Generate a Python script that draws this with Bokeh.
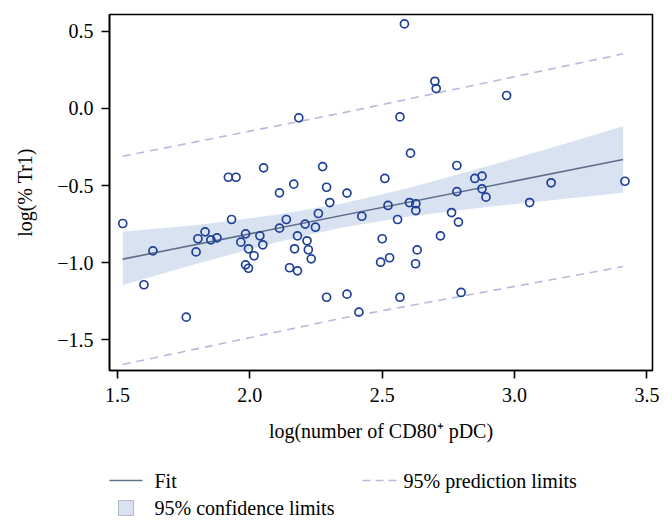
import numpy as np
from bokeh.plotting import figure
from bokeh.layouts import column
from bokeh.models import Range1d, FixedTicker, Label, BoxAnnotation
from bokeh.embed import file_html
from bokeh.resources import INLINE

# scatter data: log(number of CD80+ pDC) vs log(% Tr1)
cd80 = [1.520, 1.600, 1.634, 1.760, 1.797, 1.804, 1.831, 1.853, 1.876, 1.919,
        1.931, 1.948, 1.966, 1.984, 1.984, 1.995, 1.995, 2.016, 2.038, 2.049,
        2.052, 2.112, 2.112, 2.138, 2.150, 2.166, 2.169, 2.180, 2.180, 2.185,
        2.209, 2.216, 2.221, 2.232, 2.248, 2.259, 2.275, 2.290, 2.290, 2.302,
        2.367, 2.367, 2.412, 2.423, 2.494, 2.500, 2.510, 2.522, 2.528, 2.558,
        2.567, 2.567, 2.584, 2.603, 2.607, 2.626, 2.627, 2.627, 2.632, 2.699,
        2.704, 2.720, 2.762, 2.782, 2.782, 2.788, 2.798, 2.850, 2.877, 2.877,
        2.892, 2.970, 3.057, 3.138, 3.417]
tr1 = [-0.746, -1.143, -0.923, -1.353, -0.930, -0.845, -0.800, -0.852, -0.839, -0.446,
       -0.720, -0.446, -0.867, -0.813, -1.014, -0.910, -1.036, -0.955, -0.826, -0.884,
       -0.385, -0.547, -0.776, -0.720, -1.033, -0.491, -0.910, -0.826, -1.053, -0.061,
       -0.750, -0.858, -0.916, -0.975, -0.770, -0.681, -0.377, -0.511, -1.224, -0.610,
       -0.549, -1.204, -1.321, -0.699, -0.997, -0.845, -0.454, -0.629, -0.968, -0.720,
       -0.055, -1.224, 0.548, -0.610, -0.290, -1.007, -0.618, -0.662, -0.917, 0.176,
       0.129, -0.826, -0.675, -0.370, -0.539, -0.737, -1.193, -0.454, -0.439, -0.521,
       -0.575, 0.084, -0.610, -0.482, -0.472]

# fit line
fit_x = [1.52, 3.41]
fit_y = [-0.977, -0.331]

# 95% confidence band
band_x = [1.52, 1.80, 2.10, 2.35, 2.60, 2.90, 3.20, 3.41]
band_upper = [-0.800, -0.755, -0.690, -0.616, -0.516, -0.374, -0.224, -0.115]
band_lower = [-1.145, -1.007, -0.868, -0.772, -0.700, -0.638, -0.584, -0.547]

# 95% prediction limits
pred_x = [1.52, 2.35, 3.41]
pred_upper = [-0.310, -0.029, 0.354]
pred_lower = [-1.660, -1.359, -1.025]

x_ticks = [1.5, 2.0, 2.5, 3.0, 3.5]
x_tick_labels = ["1.5", "2.0", "2.5", "3.0", "3.5"]
y_ticks = [-1.5, -1.0, -0.5, 0.0, 0.5]
y_tick_labels = ["\u22121.5", "\u22121.0", "\u22120.5", "0.0", "0.5"]

legend_labels = ["Fit", "95% confidence limits", "95% prediction limits"]

FONT = "Liberation Serif"
PT_COLOR = "#1d3f98"
BAND_COLOR = "#d8e2f0"
FIT_COLOR = "#60708c"
PRED_COLOR = "#b8b9dc"

p = figure(width=664, height=460, output_backend="svg", toolbar_location=None,
           x_range=Range1d(1.470, 3.521), y_range=Range1d(-1.699, 0.609),
           min_border_left=109, min_border_right=12, min_border_top=14,
           min_border_bottom=90)
p.grid.visible = False
p.outline_line_color = "black"
p.outline_line_width = 1.6
p.background_fill_color = "white"
p.border_fill_color = "white"

p.varea(x=band_x, y1=band_lower, y2=band_upper, fill_color=BAND_COLOR, fill_alpha=1.0)
p.line(fit_x, fit_y, line_color=FIT_COLOR, line_width=1.6)
p.line(pred_x, pred_upper, line_color=PRED_COLOR, line_width=1.6, line_dash="8 6")
p.line(pred_x, pred_lower, line_color=PRED_COLOR, line_width=1.6, line_dash="8 6")
p.scatter(cd80, tr1, marker="circle", size=8, fill_color=None, line_color=PT_COLOR, line_width=1.7)

for ax in (p.xaxis[0], p.yaxis[0]):
    ax.axis_line_color = "black"
    ax.axis_line_width = 1.6
    ax.major_tick_line_color = "black"
    ax.major_tick_line_width = 1.6
    ax.major_tick_out = 8
    ax.major_tick_in = 0
    ax.minor_tick_line_color = None
    ax.major_label_text_font = FONT
    ax.major_label_text_font_size = "20px"
    ax.major_label_text_color = "black"
    ax.axis_label_text_font = FONT
    ax.axis_label_text_font_size = "20px"
    ax.axis_label_text_font_style = "normal"
    ax.axis_label_text_color = "black"

p.xaxis.ticker = FixedTicker(ticks=x_ticks)
p.xaxis.major_label_overrides = dict(zip(x_ticks, x_tick_labels))
p.yaxis.ticker = FixedTicker(ticks=y_ticks)
p.yaxis.major_label_overrides = dict(zip(y_ticks, y_tick_labels))
p.xaxis.axis_label = "log(number of CD80\u207a pDC)"
p.yaxis.axis_label = "log(% Tr1)"
p.xaxis.major_label_standoff = 9
p.xaxis.axis_label_standoff = 15
p.yaxis.major_label_standoff = 8
p.yaxis.axis_label_standoff = 18

# legend panel: frame aligned with the main plot; ranges in page pixels (y downward)
LH = 61
leg = figure(width=664, height=LH, output_backend="svg", toolbar_location=None,
             x_range=Range1d(109, 652), y_range=Range1d(LH, 0),
             x_axis_type=None, y_axis_type=None,
             min_border_left=109, min_border_right=12, min_border_top=0,
             min_border_bottom=0)
leg.grid.visible = False
leg.outline_line_color = None
leg.background_fill_color = "white"
leg.border_fill_color = "white"

# Fit sample
leg.segment(x0=[108], y0=[20], x1=[142], y1=[20], line_color=FIT_COLOR, line_width=1.6)
# confidence square sample
leg.add_layout(BoxAnnotation(left=118, right=133, top=40, bottom=55,
                             fill_color=BAND_COLOR, fill_alpha=1,
                             line_color="#444444", line_width=1))
# prediction dashed sample
leg.segment(x0=[362], y0=[20], x1=[396], y1=[20], line_color=PRED_COLOR,
            line_width=1.6, line_dash="8 5")

for (lx, ly), txt in zip([(154, 20), (154, 47), (403, 20)], legend_labels):
    leg.add_layout(Label(x=lx, y=ly, text=txt, text_font=FONT, text_font_size="20px",
                         text_color="black", text_baseline="middle", text_align="left"))

layout = column(p, leg, spacing=0)
open("out.html", "w").write(file_html(layout, INLINE))
